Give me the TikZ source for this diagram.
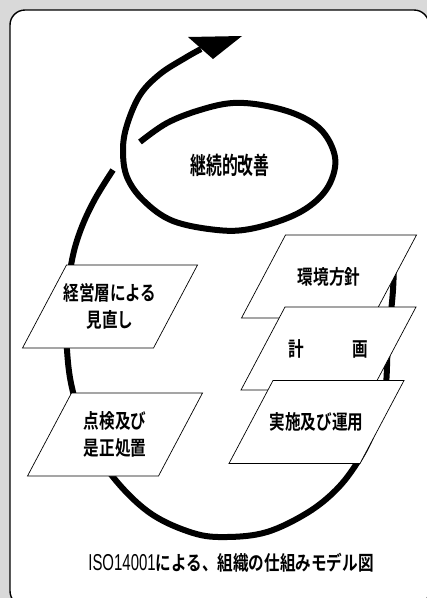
\documentclass[tikz,border=0pt]{standalone}
\usepackage{fontspec}
\usepackage{graphicx}
\setmainfont{Liberation Sans}
\newfontfamily\jpfont[FakeStretch=0.78]{Noto Sans CJK JP Bold}
\newfontfamily\jpwide[FakeStretch=0.66]{Noto Sans CJK JP Bold}
\definecolor{paper}{HTML}{D9D9D9}
\tikzstyle{frame}=[draw=black, line width=1.4pt, fill=white, rounded corners=15pt]
\tikzstyle{band}=[line width=6pt, line cap=butt, line join=round]
\tikzstyle{para}=[draw, fill=white, line width=0.7pt]
\tikzstyle{paratext}=[inner sep=0pt, align=center,
    font=\jpfont\fontsize{20}{27}\selectfont]
\tikzstyle{hub}=[inner sep=0pt, font=\jpwide\fontsize{24}{24}\selectfont]
\tikzstyle{captext}=[inner sep=0pt, font=\jpfont\fontsize{20}{20}\selectfont]
\def\halfw{87.5}
\def\slant{44}
\def\halfh{41.5}
% slanted card: name, centre x, centre y, text
\newcommand\card[4]{%
    \draw[para] (#2-\halfw,#3+\halfh) -- (#2+\halfw-\slant,#3+\halfh)
        -- (#2+\halfw,#3-\halfh) -- (#2-\halfw+\slant,#3-\halfh) -- cycle;
    \node[paratext] (#1) at (#2,#3) {#4};}

\begin{document}
\begin{tikzpicture}[x=1pt, y=-1pt]
    \useasboundingbox (0,0) rectangle (427,598);
    \fill[paper] (0,0) rectangle (427,598);
    \clip (0,0) rectangle (427,598);
    \path[frame] (10,10) rectangle (429,606);
    % the big cycle, passing under the loop
    \draw[band] plot[smooth, tension=0.6] coordinates {(394,252) (393,290)
        (388,343) (385,392) (373,432) (357,463) (336,490) (307,513)
        (267,532) (227,537) (193,533) (150,513) (113,477) (89,437)
        (73,392) (67,350) (67,300) (72,260) (81,229) (95,199) (113,170)};
    % the loop and the way out
    \draw[band] plot[smooth, tension=0.6] coordinates {(140,142) (167,123)
        (200,110) (233,103) (267,106) (300,116) (323,132) (335,157)
        (331,181) (316,201) (290,217) (250,229) (217,230) (173,221)
        (144,201) (127,177) (123,150) (127,125) (140,95) (160,74)
        (185,58) (201,49)};
    \fill (188,37) -- (242,36) -- (213,59) -- cycle;
    \node[hub] (kaizen) at (230,165) {継続的改善};
    \card{kankyo}{329}{276.5}{環境方針}
    \card{keikaku}{328.5}{348.5}{計\hspace{2.4em}画}
    \card{jisshi}{316.5}{422}{実施及び運用}
    \card{minaoshi}{110}{306.5}{経営層による\\見直し}
    \card{tenken}{115}{434.5}{点検及び\\是正処置}
    \node[captext] (title) at (231,563) {\scalebox{0.65}[1]{\rmfamily\fontsize{23}{23}\selectfont ISO14001}による、組織の仕組みモデル図};
\end{tikzpicture}
\end{document}
